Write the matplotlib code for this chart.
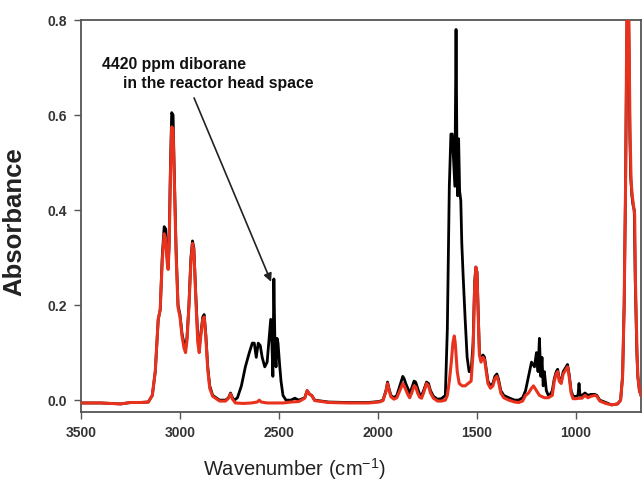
import matplotlib
matplotlib.use("Agg")
import matplotlib.pyplot as plt

plt.rcParams['font.family'] = ['Liberation Sans', 'DejaVu Sans']
plt.rcParams['mathtext.fontset'] = 'custom'
plt.rcParams['mathtext.rm'] = 'Liberation Sans'
plt.rcParams['mathtext.it'] = 'Liberation Sans:italic'
plt.rcParams['mathtext.bf'] = 'Liberation Sans:bold'

# ---- data (wavenumber cm-1, absorbance) ----
black_wn = [3500, 3400, 3300, 3250, 3200, 3160, 3140, 3125, 3110, 3100, 3090, 3080, 3072, 3065, 3060,
            3055, 3048, 3042, 3035, 3030, 3020, 3010, 3000, 2990, 2980, 2972, 2965, 2955, 2945, 2937,
            2930, 2920, 2910, 2903, 2895, 2885, 2878, 2870, 2860, 2850, 2835, 2800, 2770, 2755, 2745,
            2735, 2725, 2710, 2690, 2670, 2650, 2635, 2625, 2615, 2605, 2595, 2585, 2572, 2560, 2550,
            2542, 2536, 2531, 2526, 2520, 2515, 2510, 2505, 2498, 2490, 2480, 2465, 2440, 2420, 2400,
            2370, 2358, 2345, 2335, 2320, 2250, 2150, 2050, 1995, 1975, 1960, 1952, 1945, 1935, 1920,
            1905, 1890, 1875, 1868, 1860, 1850, 1840, 1830, 1818, 1810, 1800, 1790, 1780, 1770, 1755,
            1745, 1735, 1720, 1700, 1680, 1660, 1650, 1640, 1632, 1625, 1618, 1612, 1606, 1602, 1598,
            1593, 1588, 1582, 1577, 1570, 1560, 1550, 1540, 1530, 1520, 1512, 1506, 1500, 1495, 1488,
            1480, 1470, 1462, 1455, 1445, 1432, 1420, 1410, 1400, 1392, 1380, 1365, 1340, 1310, 1290,
            1270, 1255, 1240, 1225, 1210, 1200, 1192, 1185, 1178, 1172, 1166, 1160, 1150, 1140, 1130,
            1120, 1110, 1100, 1093, 1085, 1075, 1065, 1050, 1043, 1035, 1025, 1015, 1000, 990, 985,
            980, 970, 955, 940, 925, 905, 895, 880, 850, 820, 790, 775, 765, 757, 750,
            744, 739, 733, 728, 724, 718, 712, 706, 701, 697, 693, 688, 680, 672]
black_abs = [-0.006, -0.006, -0.008, -0.005, -0.005, -0.004, 0.01, 0.06, 0.17, 0.19, 0.30, 0.365, 0.36, 0.30, 0.28,
             0.33, 0.50, 0.605, 0.60, 0.50, 0.32, 0.20, 0.18, 0.14, 0.12, 0.11, 0.13, 0.20, 0.30, 0.335,
             0.32, 0.22, 0.13, 0.11, 0.14, 0.175, 0.18, 0.14, 0.07, 0.03, 0.01, 0.0, 0.0, 0.005, 0.015,
             0.005, 0.0, 0.005, 0.03, 0.07, 0.10, 0.12, 0.12, 0.09, 0.12, 0.115, 0.09, 0.07, 0.08, 0.13,
             0.17, 0.12, 0.05, 0.255, 0.10, 0.07, 0.13, 0.12, 0.08, 0.04, 0.01, 0.0, 0.0, 0.004, 0.0,
             0.005, 0.02, 0.012, 0.01, 0.0, -0.004, -0.005, -0.005, -0.003, 0.0, 0.02, 0.038, 0.025, 0.01, 0.005,
             0.01, 0.03, 0.05, 0.045, 0.035, 0.025, 0.015, 0.025, 0.04, 0.038, 0.025, 0.012, 0.01, 0.02, 0.038,
             0.035, 0.02, 0.008, 0.002, 0.003, 0.01, 0.15, 0.45, 0.56, 0.56, 0.50, 0.45, 0.78, 0.55, 0.43,
             0.55, 0.44, 0.42, 0.33, 0.26, 0.17, 0.09, 0.06, 0.06, 0.12, 0.25, 0.28, 0.27, 0.20, 0.10,
             0.085, 0.095, 0.09, 0.07, 0.04, 0.03, 0.035, 0.05, 0.055, 0.045, 0.02, 0.01, 0.005, 0.0, 0.0,
             0.005, 0.02, 0.05, 0.08, 0.07, 0.10, 0.06, 0.13, 0.05, 0.09, 0.03, 0.06, 0.02, 0.01, 0.012,
             0.02, 0.045, 0.06, 0.065, 0.045, 0.04, 0.06, 0.07, 0.075, 0.055, 0.02, 0.008, 0.008, 0.01, 0.035,
             0.01, 0.01, 0.015, 0.01, 0.012, 0.012, 0.01, 0.0, -0.005, -0.01, -0.008, 0.0, 0.05, 0.2, 0.45,
             0.75, 0.92, 0.75, 0.55, 0.47, 0.43, 0.41, 0.40, 0.25, 0.17, 0.10, 0.05, 0.02, 0.01]

red_wn = [3500, 3400, 3300, 3250, 3200, 3160, 3140, 3125, 3110, 3100, 3090, 3080, 3072, 3065, 3060,
          3055, 3048, 3042, 3035, 3030, 3020, 3010, 3000, 2990, 2980, 2972, 2965, 2955, 2945, 2937,
          2930, 2920, 2910, 2903, 2895, 2885, 2878, 2870, 2860, 2850, 2835, 2800, 2770, 2755, 2745,
          2735, 2720, 2680, 2640, 2610, 2600, 2590, 2560, 2520, 2480, 2440, 2400, 2370, 2358, 2345,
          2335, 2320, 2250, 2150, 2050, 1995, 1975, 1960, 1952, 1945, 1935, 1920, 1905, 1890, 1875,
          1868, 1860, 1850, 1840, 1830, 1818, 1810, 1800, 1790, 1780, 1770, 1755, 1745, 1735, 1720,
          1700, 1680, 1660, 1650, 1640, 1630, 1622, 1615, 1610, 1600, 1590, 1575, 1560, 1545, 1530,
          1520, 1512, 1506, 1500, 1495, 1488, 1480, 1470, 1462, 1455, 1445, 1432, 1420, 1410, 1400,
          1392, 1380, 1365, 1340, 1310, 1290, 1270, 1255, 1240, 1225, 1215, 1200, 1185, 1160, 1140,
          1120, 1110, 1100, 1093, 1085, 1075, 1065, 1050, 1043, 1035, 1025, 1015, 1000, 985, 970,
          955, 940, 925, 905, 895, 880, 850, 820, 790, 775, 765, 757, 750, 744, 739,
          733, 728, 722, 716, 710, 704, 700, 696, 692, 688, 680, 672]
red_abs = [-0.006, -0.006, -0.008, -0.005, -0.005, -0.004, 0.01, 0.06, 0.17, 0.19, 0.29, 0.35, 0.34, 0.29, 0.275,
           0.32, 0.48, 0.575, 0.57, 0.48, 0.31, 0.195, 0.175, 0.135, 0.11, 0.10, 0.125, 0.195, 0.29, 0.33,
           0.315, 0.21, 0.12, 0.10, 0.135, 0.17, 0.175, 0.135, 0.065, 0.025, 0.008, -0.002, -0.002, 0.004, 0.013,
           0.002, -0.006, -0.007, -0.006, -0.004, 0.0, -0.004, -0.006, -0.006, -0.006, -0.004, -0.003, 0.004, 0.02, 0.012,
           0.01, -0.001, -0.005, -0.006, -0.006, -0.004, -0.001, 0.018, 0.035, 0.022, 0.007, 0.002, 0.005, 0.02, 0.035,
           0.03, 0.022, 0.012, 0.005, 0.015, 0.03, 0.028, 0.015, 0.006, 0.004, 0.015, 0.035, 0.03, 0.015, 0.004,
           -0.002, -0.002, 0.0, 0.01, 0.04, 0.08, 0.12, 0.135, 0.12, 0.06, 0.035, 0.03, 0.03, 0.035, 0.04,
           0.10, 0.24, 0.28, 0.265, 0.19, 0.095, 0.08, 0.09, 0.085, 0.065, 0.035, 0.025, 0.03, 0.045, 0.05,
           0.04, 0.015, 0.005, 0.0, -0.004, -0.005, -0.002, 0.01, 0.015, 0.025, 0.03, 0.02, 0.01, 0.005, 0.005,
           0.01, 0.04, 0.055, 0.06, 0.04, 0.035, 0.055, 0.065, 0.07, 0.05, 0.015, 0.003, 0.003, 0.004, 0.004,
           0.01, 0.005, 0.008, 0.01, 0.008, -0.002, -0.007, -0.01, -0.008, 0.0, 0.05, 0.2, 0.45, 0.78, 0.95,
           0.80, 0.58, 0.46, 0.43, 0.41, 0.39, 0.25, 0.17, 0.10, 0.05, 0.02, 0.01]

x_ticks = [3500, 3000, 2500, 2000, 1500, 1000]
y_ticks = [0.0, 0.2, 0.4, 0.6, 0.8]
annot_lines = ["4420 ppm diborane", "in the reactor head space"]

fig = plt.figure(figsize=(6.44, 4.91), dpi=100)
ax = fig.add_axes([81/644, 1 - 412/491, 560/644, (412 - 20)/491])

ax.plot(black_wn, black_abs, color='black', lw=2.0, solid_joinstyle='round', zorder=2)
ax.plot(red_wn, red_abs, color='#e8321e', lw=2.2, solid_joinstyle='round', zorder=3)

ax.set_xlim(3500, 672)
ax.set_ylim(-0.025, 0.8)
ax.set_xticks(x_ticks)
ax.set_yticks(y_ticks)
ax.set_yticklabels([f"{v:.1f}" for v in y_ticks])
ax.tick_params(direction='out', length=5, width=1.0, color='#555555',
               labelsize=10, labelcolor='#333333', pad=5)
for lab in ax.get_xticklabels() + ax.get_yticklabels():
    lab.set_fontweight('bold')
for s in ax.spines.values():
    s.set_color('#555555')
    s.set_linewidth(1.3)

ax.set_xlabel("Wavenumber (cm$^{-1}$)", fontsize=14.5, color='#222222')
ax.xaxis.set_label_coords(0.382, -0.112)
ax.set_ylabel("Absorbance", fontsize=18.5, fontweight='bold', color='#222222')
ax.yaxis.set_label_coords(-0.098, 0.485)

ax.text(3394, 0.722, annot_lines[0], fontsize=11.3, fontweight='bold', ha='left', va='top', color='#111111')
ax.text(3288, 0.683, annot_lines[1], fontsize=11.3, fontweight='bold', ha='left', va='top', color='#111111')
ax.annotate("", xy=(2540, 0.249), xytext=(2929, 0.636),
            arrowprops=dict(arrowstyle='-|>', color='#222222', lw=1.2,
                            mutation_scale=12, shrinkA=0, shrinkB=0))

fig.savefig("out.png", dpi=100)
